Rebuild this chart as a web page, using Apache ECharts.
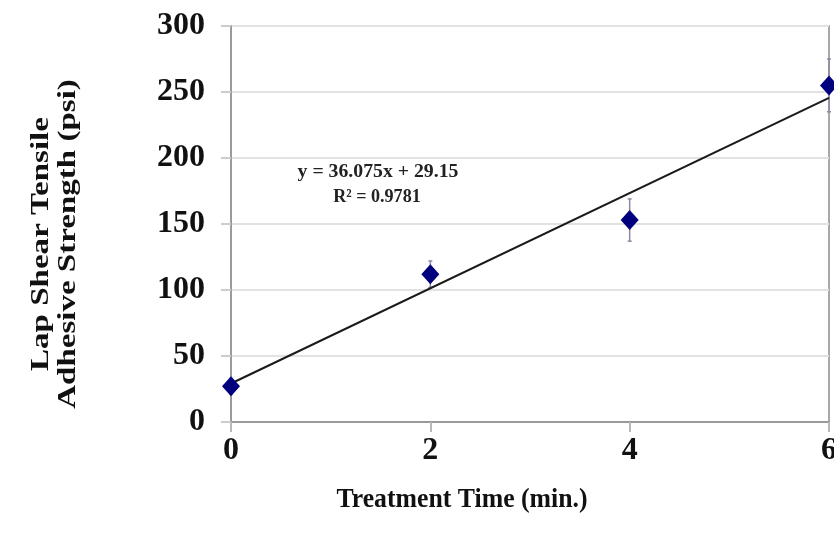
<!DOCTYPE html>
<html>
<head>
<meta charset="utf-8">
<script src="https://cdn.jsdelivr.net/npm/echarts@6/dist/echarts.min.js"></script>
<style>
  html, body { margin: 0; padding: 0; background: #fff; }
  #chart { width: 834px; height: 533px; }
</style>
</head>
<body>
<div id="chart"></div>
<script>
// Treatment time (min.) and mean lap shear strength (psi) with error half-widths
var treatmentTimes = [0, 2, 4, 6];
var strengthMeans = [27, 112, 153, 255];
var strengthErrors = [6, 10, 16, 20];

// Linear fit coefficients as printed in the equation label
var fitSlope = 36.075;
var fitIntercept = 29.15;
var fitR2 = 0.9781;

var yTicks = [0, 50, 100, 150, 200, 250, 300];
var xTicks = [0, 2, 4, 6];

var serif = '"Liberation Serif", "DejaVu Serif", serif';

var fitLine = [
  [xTicks[0], fitSlope * xTicks[0] + fitIntercept],
  [xTicks[xTicks.length - 1], fitSlope * xTicks[xTicks.length - 1] + fitIntercept]
];

var points = treatmentTimes.map(function (t, i) { return [t, strengthMeans[i]]; });
var errorData = treatmentTimes.map(function (t, i) {
  return [t, strengthMeans[i] - strengthErrors[i], strengthMeans[i] + strengthErrors[i]];
});

var chart = echarts.init(document.getElementById('chart'), null, { renderer: 'canvas' });

chart.setOption({
  backgroundColor: '#ffffff',
  animation: false,
  grid: {
    left: 231, right: 5, top: 26, bottom: 111,
    outerBoundsMode: 'none',
    containLabel: false,
    show: true, borderColor: '#a8a8a8', borderWidth: 2, backgroundColor: 'transparent'
  },
  xAxis: {
    type: 'value',
    min: xTicks[0],
    max: xTicks[xTicks.length - 1],
    interval: 2,
    axisLine: { show: true, onZero: false, lineStyle: { color: '#9a9a9a', width: 2 } },
    axisTick: { show: true, inside: false, length: 10, lineStyle: { color: '#b8b8b8', width: 2 } },
    splitLine: { show: false },
    axisLabel: { color: '#111', fontFamily: serif, fontWeight: 'bold', fontSize: 32, margin: 13, hideOverlap: false }
  },
  yAxis: {
    type: 'value',
    min: yTicks[0],
    max: yTicks[yTicks.length - 1],
    interval: 50,
    axisLine: { show: true, onZero: false, lineStyle: { color: '#9a9a9a', width: 2 } },
    axisTick: { show: true, inside: false, length: 10, lineStyle: { color: '#cccccc', width: 2 } },
    splitLine: { show: true, lineStyle: { color: '#e2e2e2', width: 2 } },
    axisLabel: { color: '#111', fontFamily: serif, fontWeight: 'bold', fontSize: 32, margin: 26 }
  },
  series: [
    {
      name: 'Error',
      type: 'custom',
      data: errorData,
      z: 2,
      renderItem: function (params, api) {
        var x = api.value(0);
        var lo = api.coord([x, api.value(1)]);
        var hi = api.coord([x, api.value(2)]);
        var cap = 2;
        var style = { stroke: '#8a8aa8', lineWidth: 1.5 };
        return {
          type: 'group',
          children: [
            { type: 'line', shape: { x1: lo[0], y1: lo[1], x2: hi[0], y2: hi[1] }, style: style },
            { type: 'line', shape: { x1: lo[0] - cap, y1: lo[1], x2: lo[0] + cap, y2: lo[1] }, style: style },
            { type: 'line', shape: { x1: hi[0] - cap, y1: hi[1], x2: hi[0] + cap, y2: hi[1] }, style: style }
          ]
        };
      }
    },
    {
      name: 'Linear fit',
      type: 'line',
      data: fitLine,
      symbol: 'none',
      z: 3,
      lineStyle: { color: '#1a1a1a', width: 2 }
    },
    {
      name: 'Strength',
      type: 'scatter',
      data: points,
      symbol: 'diamond',
      symbolSize: [18, 20],
      z: 4,
      itemStyle: { color: '#00007f', opacity: 1 }
    }
  ],
  graphic: [
    {
      type: 'text',
      x: 55,
      y: 244,
      rotation: Math.PI / 2,
      scaleX: 1.27,
      style: {
        text: 'Lap Shear Tensile\nAdhesive Strength (psi)',
        font: 'bold 26px ' + serif,
        fill: '#111',
        align: 'center',
        verticalAlign: 'middle',
        lineHeight: 27
      }
    },
    {
      type: 'text',
      x: 462,
      y: 500,
      scaleX: 0.92,
      style: {
        text: 'Treatment Time (min.)',
        font: 'bold 28px ' + serif,
        fill: '#111',
        align: 'center',
        verticalAlign: 'middle'
      }
    },
    {
      type: 'text',
      x: 378,
      y: 172,
      scaleX: 1.04,
      style: {
        text: 'y = ' + fitSlope + 'x + ' + fitIntercept.toFixed(2),
        font: 'bold 19px ' + serif,
        fill: '#222',
        align: 'center',
        verticalAlign: 'middle'
      }
    },
    {
      type: 'text',
      x: 377,
      y: 197,
      scaleX: 0.95,
      style: {
        text: 'R² = ' + fitR2,
        font: 'bold 19px ' + serif,
        fill: '#222',
        align: 'center',
        verticalAlign: 'middle'
      }
    }
  ]
});
</script>
</body>
</html>
